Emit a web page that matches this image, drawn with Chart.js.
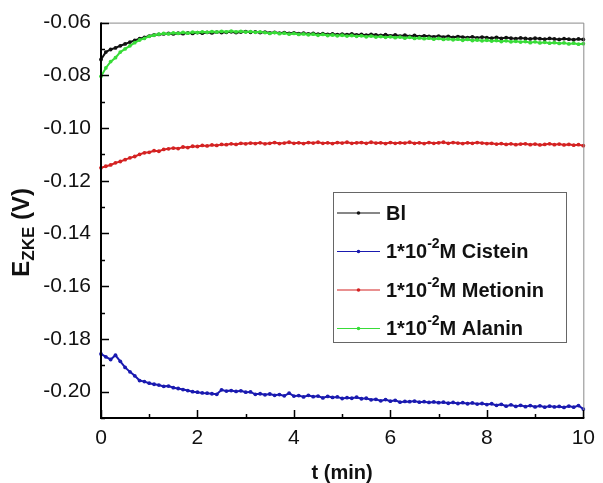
<!DOCTYPE html>
<html>
<head>
<meta charset="utf-8">
<script src="https://cdn.jsdelivr.net/npm/chart.js@4/dist/chart.umd.min.js"></script>
<style>
  html, body { margin: 0; padding: 0; background: #fff; }
  #wrap { width: 603px; height: 483px; position: relative; }
</style>
</head>
<body>
<div id="wrap"><canvas id="chart" width="603" height="483"></canvas></div>
<script>
// temps (min)
const times = [
  0.0, 0.1, 0.2, 0.3, 0.4, 0.5, 0.6, 0.7, 0.8, 0.9,
  1.0, 1.1, 1.2, 1.3, 1.4, 1.5, 1.6, 1.7, 1.8, 1.9,
  2.0, 2.1, 2.2, 2.3, 2.4, 2.5, 2.6, 2.7, 2.8, 2.9,
  3.0, 3.1, 3.2, 3.3, 3.4, 3.5, 3.6, 3.7, 3.8, 3.9,
  4.0, 4.1, 4.2, 4.3, 4.4, 4.5, 4.6, 4.7, 4.8, 4.9,
  5.0, 5.1, 5.2, 5.3, 5.4, 5.5, 5.6, 5.7, 5.8, 5.9,
  6.0, 6.1, 6.2, 6.3, 6.4, 6.5, 6.6, 6.7, 6.8, 6.9,
  7.0, 7.1, 7.2, 7.3, 7.4, 7.5, 7.6, 7.7, 7.8, 7.9,
  8.0, 8.1, 8.2, 8.3, 8.4, 8.5, 8.6, 8.7, 8.8, 8.9,
  9.0, 9.1, 9.2, 9.3, 9.4, 9.5, 9.6, 9.7, 9.8, 9.9,
  10.0
];

const blValues = [
  -0.0740, -0.0712, -0.0702, -0.0696, -0.0688, -0.0681, -0.0674, -0.0668, -0.0661, -0.0656,
  -0.0651, -0.0647, -0.0645, -0.0643, -0.0641, -0.0643, -0.0640, -0.0642, -0.0639, -0.0641,
  -0.0638, -0.0640, -0.0637, -0.0639, -0.0636, -0.0638, -0.0637, -0.0635, -0.0638, -0.0636,
  -0.0634, -0.0637, -0.0635, -0.0638, -0.0636, -0.0639, -0.0637, -0.0640, -0.0638, -0.0641,
  -0.0639, -0.0642, -0.0640, -0.0643, -0.0641, -0.0644, -0.0642, -0.0645, -0.0643, -0.0646,
  -0.0644, -0.0646, -0.0643, -0.0647, -0.0645, -0.0648, -0.0645, -0.0647, -0.0649, -0.0646,
  -0.0650, -0.0647, -0.0651, -0.0648, -0.0652, -0.0649, -0.0653, -0.0650, -0.0652, -0.0654,
  -0.0651, -0.0655, -0.0652, -0.0656, -0.0653, -0.0655, -0.0657, -0.0654, -0.0658, -0.0655,
  -0.0657, -0.0659, -0.0656, -0.0660, -0.0657, -0.0659, -0.0661, -0.0658, -0.0660, -0.0662,
  -0.0659, -0.0661, -0.0663, -0.0660, -0.0662, -0.0664, -0.0661, -0.0663, -0.0665, -0.0662,
  -0.0664
];

const cisteinValues = [
  -0.1857, -0.1868, -0.1878, -0.1862, -0.1885, -0.1908, -0.1925, -0.1940, -0.1958, -0.1962,
  -0.1968, -0.1972, -0.1975, -0.1980, -0.1979, -0.1985, -0.1988, -0.1992, -0.1996, -0.2000,
  -0.2002, -0.2005, -0.2006, -0.2008, -0.2010, -0.1993, -0.1998, -0.1996, -0.1999, -0.1997,
  -0.2002, -0.2001, -0.2010, -0.2008, -0.2012, -0.2009, -0.2014, -0.2011, -0.2016, -0.2006,
  -0.2017, -0.2015, -0.2020, -0.2014, -0.2019, -0.2017, -0.2024, -0.2018, -0.2022, -0.2020,
  -0.2026, -0.2023, -0.2025, -0.2021, -0.2027, -0.2025, -0.2031, -0.2029, -0.2035, -0.2030,
  -0.2036, -0.2033, -0.2040, -0.2037, -0.2038, -0.2036, -0.2040, -0.2038, -0.2041, -0.2039,
  -0.2042, -0.2040, -0.2044, -0.2041, -0.2045, -0.2042, -0.2046, -0.2043, -0.2047, -0.2045,
  -0.2049, -0.2046, -0.2052, -0.2048, -0.2055, -0.2050, -0.2056, -0.2052, -0.2057, -0.2053,
  -0.2058, -0.2054, -0.2059, -0.2055, -0.2058, -0.2056, -0.2060, -0.2055, -0.2059, -0.2053,
  -0.2066
];

const metioninValues = [
  -0.1151, -0.1145, -0.1140, -0.1132, -0.1127, -0.1120, -0.1113, -0.1108, -0.1100, -0.1094,
  -0.1092, -0.1086, -0.1088, -0.1081, -0.1079, -0.1076, -0.1078, -0.1072, -0.1074, -0.1069,
  -0.1070, -0.1066, -0.1068, -0.1064, -0.1066, -0.1062, -0.1063, -0.1060, -0.1062, -0.1058,
  -0.1060, -0.1057, -0.1059, -0.1056, -0.1060, -0.1058, -0.1055, -0.1059, -0.1057, -0.1054,
  -0.1058, -0.1056, -0.1059, -0.1055, -0.1057, -0.1054, -0.1058, -0.1056, -0.1059, -0.1055,
  -0.1057, -0.1054, -0.1058, -0.1056, -0.1055, -0.1058, -0.1054, -0.1057, -0.1056, -0.1059,
  -0.1055, -0.1058, -0.1056, -0.1057, -0.1054, -0.1058, -0.1056, -0.1059, -0.1055, -0.1058,
  -0.1056, -0.1054, -0.1058, -0.1055, -0.1057, -0.1059, -0.1056, -0.1058, -0.1055, -0.1057,
  -0.1059, -0.1058, -0.1061, -0.1059, -0.1062, -0.1060, -0.1063, -0.1061, -0.1060, -0.1063,
  -0.1061, -0.1064, -0.1062, -0.1060, -0.1063, -0.1061, -0.1064, -0.1062, -0.1065, -0.1063,
  -0.1067
];

const alaninValues = [
  -0.0804, -0.0772, -0.0748, -0.0733, -0.0712, -0.0700, -0.0688, -0.0676, -0.0666, -0.0660,
  -0.0652, -0.0648, -0.0644, -0.0641, -0.0643, -0.0639, -0.0641, -0.0637, -0.0640, -0.0636,
  -0.0638, -0.0635, -0.0637, -0.0634, -0.0636, -0.0633, -0.0635, -0.0632, -0.0635, -0.0633,
  -0.0636, -0.0634, -0.0637, -0.0635, -0.0638, -0.0641, -0.0638, -0.0642, -0.0640, -0.0644,
  -0.0641, -0.0645, -0.0643, -0.0646, -0.0644, -0.0648, -0.0645, -0.0649, -0.0647, -0.0650,
  -0.0648, -0.0651, -0.0649, -0.0652, -0.0650, -0.0654, -0.0651, -0.0655, -0.0653, -0.0656,
  -0.0654, -0.0657, -0.0655, -0.0659, -0.0656, -0.0660, -0.0658, -0.0661, -0.0659, -0.0663,
  -0.0660, -0.0664, -0.0662, -0.0665, -0.0663, -0.0667, -0.0664, -0.0668, -0.0666, -0.0669,
  -0.0667, -0.0670, -0.0668, -0.0672, -0.0669, -0.0673, -0.0671, -0.0674, -0.0672, -0.0676,
  -0.0673, -0.0677, -0.0675, -0.0678, -0.0676, -0.0679, -0.0677, -0.0681, -0.0678, -0.0682,
  -0.0680
];

// legende : [texte avant exposant, exposant, texte apres]
const seriesLabels = [
  ['Bl', '', ''],
  ['1*10', '-2', 'M Cistein'],
  ['1*10', '-2', 'M Metionin'],
  ['1*10', '-2', 'M Alanin']
];
const seriesColors = ['#111111', '#1a1ab0', '#d42222', '#38dc38'];

const xTicks = [0, 2, 4, 6, 8, 10];
const yTicks = [-0.06, -0.08, -0.10, -0.12, -0.14, -0.16, -0.18, -0.20];

const FONT = "'Liberation Sans', Arial, sans-serif";

function toPoints(values) {
  return values.map((v, i) => ({ x: times[i], y: v }));
}

// axes, graduations internes, titres et legende
const decorPlugin = {
  id: 'decor',
  afterDraw(chart) {
    const ctx = chart.ctx;
    const area = chart.chartArea;
    const xs = chart.scales.x;
    const ys = chart.scales.y;
    ctx.save();

    // cadre haut / droit
    ctx.strokeStyle = '#8a8a8a';
    ctx.lineWidth = 1;
    ctx.beginPath();
    ctx.moveTo(area.left, area.top + 0.5);
    ctx.lineTo(area.right + 0.5, area.top + 0.5);
    ctx.lineTo(area.right + 0.5, area.bottom);
    ctx.stroke();

    // axes gauche / bas
    ctx.strokeStyle = '#000';
    ctx.lineWidth = 2;
    ctx.beginPath();
    ctx.moveTo(area.left, area.top);
    ctx.lineTo(area.left, area.bottom);
    ctx.lineTo(area.right + 1, area.bottom);
    ctx.stroke();

    // graduations
    ctx.lineWidth = 1.5;
    ctx.beginPath();
    for (let t = 0; t <= 10; t++) {
      const px = Math.round(xs.getPixelForValue(t)) + 0.5;
      const len = t % 2 === 0 ? 8 : 4;
      ctx.moveTo(px, area.bottom);
      ctx.lineTo(px, area.bottom - len);
    }
    for (let k = 6; k <= 21; k++) {
      const py = Math.round(ys.getPixelForValue(-k / 100)) + 0.5;
      const len = k % 2 === 0 ? 8 : 4;
      ctx.moveTo(area.left, py);
      ctx.lineTo(area.left + len, py);
    }
    ctx.stroke();

    // titre axe x
    ctx.fillStyle = '#111';
    ctx.font = 'bold 20px ' + FONT;
    ctx.textAlign = 'center';
    ctx.textBaseline = 'alphabetic';
    ctx.fillText('t (min)', (area.left + area.right) / 2 - 0, 479);

    // titre axe y : E indice ZKE (V)
    ctx.save();
    ctx.translate(29, (area.top + area.bottom) / 2 + 12);
    ctx.rotate(-Math.PI / 2);
    ctx.textAlign = 'left';
    const big = 'bold 24px ' + FONT;
    const small = 'bold 17px ' + FONT;
    ctx.font = big;
    const wE = ctx.measureText('E').width;
    ctx.font = small;
    const wSub = ctx.measureText('ZKE').width;
    ctx.font = big;
    const wV = ctx.measureText(' (V)').width;
    let x0 = -(wE + wSub + wV) / 2;
    ctx.fillText('E', x0, 0);
    x0 += wE;
    ctx.font = small;
    ctx.fillText('ZKE', x0, 5);
    x0 += wSub;
    ctx.font = big;
    ctx.fillText(' (V)', x0, 0);
    ctx.restore();

    // legende
    const box = { left: 333, top: 192, right: 566, bottom: 342 };
    ctx.fillStyle = '#fff';
    ctx.fillRect(box.left, box.top, box.right - box.left, box.bottom - box.top);
    ctx.strokeStyle = '#666';
    ctx.lineWidth = 1;
    ctx.strokeRect(box.left + 0.5, box.top + 0.5, box.right - box.left, box.bottom - box.top);
    ctx.textAlign = 'left';
    ctx.textBaseline = 'middle';
    seriesLabels.forEach((parts, i) => {
      const cy = 213 + i * 38.5;
      ctx.strokeStyle = seriesColors[i];
      ctx.lineWidth = 1.2;
      ctx.beginPath();
      ctx.moveTo(337, cy);
      ctx.lineTo(380, cy);
      ctx.stroke();
      ctx.fillStyle = seriesColors[i];
      ctx.beginPath();
      ctx.arc(358.5, cy, 1.8, 0, Math.PI * 2);
      ctx.fill();

      ctx.fillStyle = '#111';
      let tx = 386;
      ctx.font = 'bold 20px ' + FONT;
      ctx.fillText(parts[0], tx, cy + 1);
      tx += ctx.measureText(parts[0]).width;
      if (parts[1]) {
        ctx.font = 'bold 14px ' + FONT;
        ctx.fillText(parts[1], tx, cy - 7);
        tx += ctx.measureText(parts[1]).width;
        ctx.font = 'bold 20px ' + FONT;
        ctx.fillText(parts[2], tx, cy + 1);
      }
    });

    ctx.restore();
  }
};

const allValues = [blValues, cisteinValues, metioninValues, alaninValues];

new Chart(document.getElementById('chart').getContext('2d'), {
  type: 'line',
  data: {
    datasets: allValues.map((vals, i) => ({
      label: seriesLabels[i].join(''),
      data: toPoints(vals),
      borderColor: seriesColors[i],
      backgroundColor: seriesColors[i],
      borderWidth: 2,
      pointRadius: 1.9,
      pointBorderWidth: 0,
      pointHoverRadius: 2,
      tension: 0,
      fill: false,
      clip: false,
      order: i === 3 ? 0 : i + 1
    }))
  },
  plugins: [decorPlugin],
  options: {
    responsive: false,
    animation: false,
    layout: { padding: { left: 0, right: 13, top: 21, bottom: 0 } },
    plugins: {
      legend: { display: false },
      tooltip: { enabled: false },
      title: { display: false }
    },
    scales: {
      x: {
        type: 'linear',
        min: 0,
        max: 10,
        afterFit(scale) { scale.height = 65; },
        afterBuildTicks(scale) { scale.ticks = xTicks.map(v => ({ value: v })); },
        grid: { display: false, drawTicks: false },
        border: { display: false },
        ticks: {
          padding: 8,
          color: '#111',
          font: { family: FONT, size: 21 },
          callback: v => String(v),
          maxRotation: 0,
          autoSkip: false
        }
      },
      y: {
        type: 'linear',
        min: -0.21,
        max: -0.06,
        afterFit(scale) { scale.width = 101; },
        afterBuildTicks(scale) { scale.ticks = yTicks.map(v => ({ value: v })); },
        grid: { display: false, drawTicks: false },
        border: { display: false },
        ticks: {
          padding: 10,
          color: '#111',
          font: { family: FONT, size: 21 },
          callback: v => v.toFixed(2),
          autoSkip: false
        }
      }
    }
  }
});
</script>
</body>
</html>
